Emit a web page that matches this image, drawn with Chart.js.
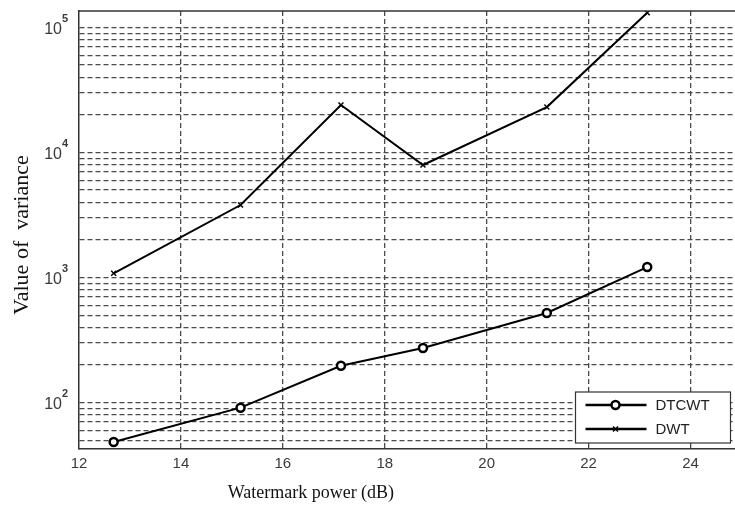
<!DOCTYPE html>
<html>
<head>
<meta charset="utf-8">
<script src="https://cdn.jsdelivr.net/npm/chart.js@4"></script>
<style>
  html, body { margin: 0; padding: 0; background: #fff; overflow: hidden; }
  #wrap { width: 748px; height: 507px; }
</style>
</head>
<body>
<div id="wrap"><canvas id="myChart"></canvas></div>
<script>
    // watermark power (dB) and measured variance for both transforms
    const powerDb = [12.68, 15.17, 17.14, 18.75, 21.18, 23.15];
    const dtcwtVariance = [48.3, 91, 197, 273, 520, 1213];
    const dwtVariance = [1081, 3800, 23990, 7943, 23100, 131000];

    const seriesNames = ['DTCWT', 'DWT'];
    const xTickValues = [12, 14, 16, 18, 20, 22, 24];
    const yTickExponents = [2, 3, 4, 5];

    const xTitle = 'Watermark power (dB)';
    const yTitle = 'Value of  variance';

    const gridColor = '#4a4a4a';
    const frameColor = '#333';

    function toPoints(values) {
        return powerDb.map((x, i) => ({ x: x, y: values[i] }));
    }

    // tick labels, titles, top frame line and the boxed legend
    const decorations = {
        id: 'decorations',
        afterDatasetsDraw(chart) {
            const ctx = chart.ctx;
            const area = chart.chartArea;
            const xs = chart.scales.x;
            const ys = chart.scales.y;

            ctx.save();
            ctx.strokeStyle = frameColor;
            ctx.lineWidth = 1.5;
            ctx.beginPath();
            ctx.moveTo(area.left, area.top);
            ctx.lineTo(area.right, area.top);
            ctx.stroke();

            ctx.fillStyle = '#3a3a3a';
            ctx.font = '15px "Liberation Sans", Arial, sans-serif';
            ctx.textAlign = 'center';
            ctx.textBaseline = 'middle';
            xTickValues.forEach(v => {
                ctx.fillText(String(v), xs.getPixelForValue(v), area.bottom + 15);
            });

            yTickExponents.forEach(e => {
                const y = ys.getPixelForValue(Math.pow(10, e));
                ctx.font = '16px "Liberation Sans", Arial, sans-serif';
                ctx.textAlign = 'right';
                ctx.fillText('10', area.left - 17, y + 2);
                ctx.font = 'bold 11px "Liberation Sans", Arial, sans-serif';
                ctx.textAlign = 'left';
                ctx.fillText(String(e), area.left - 17, y - 9);
            });

            ctx.fillStyle = '#111';
            ctx.font = '18px "Liberation Serif", "Times New Roman", serif';
            ctx.textAlign = 'center';
            ctx.fillText(xTitle, area.left + (area.right - area.left) * 0.35, area.bottom + 44);

            ctx.save();
            ctx.translate(22, (area.top + area.bottom) / 2 + 5);
            ctx.rotate(-Math.PI / 2);
            ctx.font = '22px "Liberation Serif", "Times New Roman", serif';
            ctx.fillText(yTitle, 0, 0);
            ctx.restore();

            // legend box in the lower right corner
            const boxRight = area.right - 11;
            const boxBottom = area.bottom - 6;
            const boxW = 155, boxH = 51;
            const boxLeft = boxRight - boxW;
            const boxTop = boxBottom - boxH;
            ctx.fillStyle = '#fff';
            ctx.fillRect(boxLeft, boxTop, boxW, boxH);
            ctx.strokeStyle = frameColor;
            ctx.lineWidth = 1.2;
            ctx.strokeRect(boxLeft, boxTop, boxW, boxH);

            chart.data.datasets.forEach((ds, i) => {
                const y = boxTop + 13 + i * 24;
                ctx.strokeStyle = ds.borderColor;
                ctx.lineWidth = 2.5;
                ctx.beginPath();
                ctx.moveTo(boxLeft + 10, y);
                ctx.lineTo(boxLeft + 71, y);
                ctx.stroke();
                ctx.fillStyle = ds.pointBackgroundColor;
                ctx.strokeStyle = ds.pointBorderColor;
                ctx.lineWidth = ds.pointBorderWidth;
                Chart.helpers.drawPoint(ctx, {
                    pointStyle: ds.pointStyle,
                    radius: ds.pointRadius,
                    borderWidth: ds.pointBorderWidth,
                    rotation: 0
                }, boxLeft + 40, y);
                ctx.fillStyle = '#222';
                ctx.font = '15px "Liberation Sans", Arial, sans-serif';
                ctx.textAlign = 'left';
                ctx.fillText(ds.label, boxLeft + 80, y + 1);
            });
            ctx.restore();
        }
    };

    new Chart(document.getElementById('myChart'), {
        type: 'line',
        data: {
            datasets: [{
                label: seriesNames[0],
                data: toPoints(dtcwtVariance),
                borderColor: '#000',
                borderWidth: 2,
                pointStyle: 'circle',
                pointRadius: 4,
                pointBorderWidth: 2.5,
                pointBorderColor: '#000',
                pointBackgroundColor: '#fff'
            }, {
                label: seriesNames[1],
                data: toPoints(dwtVariance),
                borderColor: '#000',
                borderWidth: 2,
                pointStyle: 'crossRot',
                pointRadius: 3.5,
                pointBorderWidth: 1.5,
                pointBorderColor: '#000',
                pointBackgroundColor: '#000'
            }]
        },
        options: {
            responsive: true,
            maintainAspectRatio: false,
            animation: false,
            layout: { padding: { left: 79, top: 11, right: 5, bottom: 58 } },
            plugins: {
                legend: { display: false },
                tooltip: { enabled: false }
            },
            scales: {
                x: {
                    type: 'linear',
                    min: 12,
                    max: 25,
                    afterBuildTicks: scale => {
                        scale.ticks = xTickValues.map(v => ({ value: v }));
                    },
                    ticks: { display: false },
                    grid: {
                        drawTicks: false,
                        lineWidth: 1.3,
                        color: c => (c.tick && c.tick.value === 12) ? 'rgba(0,0,0,0)' : gridColor
                    },
                    border: { display: true, color: frameColor, width: 1.5, dash: [5, 3] }
                },
                y: {
                    type: 'logarithmic',
                    min: 42.5,
                    max: 135500,
                    afterBuildTicks: scale => {
                        const ticks = [];
                        for (let e = 1; e <= 5; e++) {
                            for (let m = 1; m <= 9; m++) {
                                const v = m * Math.pow(10, e);
                                if (v >= scale.min && v <= scale.max) ticks.push({ value: v });
                            }
                        }
                        scale.ticks = ticks;
                    },
                    ticks: { display: false },
                    grid: { drawTicks: false, lineWidth: 1.3, color: gridColor },
                    border: { display: true, color: frameColor, width: 1.5, dash: [5, 3] }
                }
            }
        },
        plugins: [decorations]
    });
</script>
</body>
</html>
